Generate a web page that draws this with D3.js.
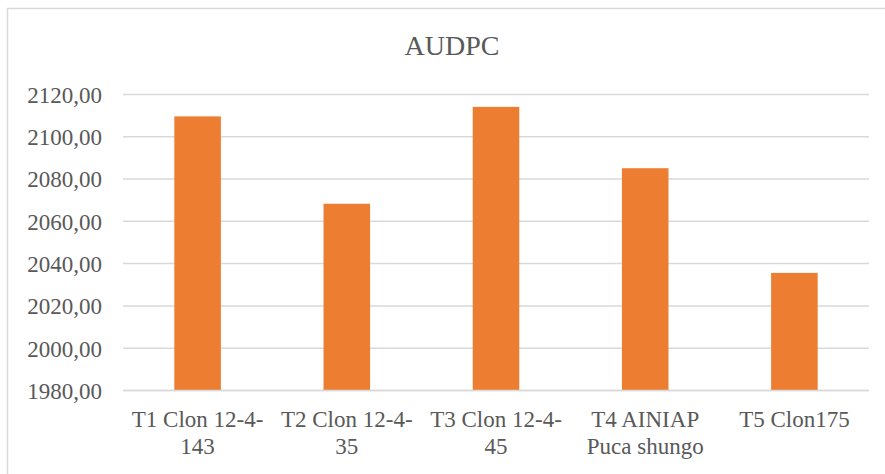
<!DOCTYPE html>
<html>
<head>
<meta charset="utf-8">
<script src="https://cdn.jsdelivr.net/npm/d3@7"></script>
<style>
  html, body { margin: 0; padding: 0; background: #fff; }
  svg { display: block; }
</style>
</head>
<body>
<svg id="chart" width="885" height="474"></svg>
<script>
// AUDPC per treatment
const categories = [
  ["T1 Clon 12-4-", "143"],
  ["T2 Clon 12-4-", "35"],
  ["T3 Clon 12-4-", "45"],
  ["T4 AINIAP", "Puca shungo"],
  ["T5 Clon175"]
];
const audpcValues = [2109.6, 2068.3, 2114.1, 2085.1, 2035.6];
const yTicks = [1980, 2000, 2020, 2040, 2060, 2080, 2100, 2120];

const svg = d3.select("#chart");
const textColor = "#595959";
const gridColor = "#d9d9d9";
const serif = '"Liberation Serif"';

// chart frame
svg.append("rect")
  .attr("x", 7.5).attr("y", 8.5)
  .attr("width", 900).attr("height", 500)
  .attr("fill", "#fff")
  .attr("stroke", gridColor).attr("stroke-width", 1.5);

const x = d3.scaleBand()
  .domain(categories.map((d, i) => i))
  .range([123, 869])
  .padding(0);

const y = d3.scaleLinear()
  .domain([1980, 2120])
  .range([390.5, 94.4]);

// horizontal gridlines
svg.append("g")
  .selectAll("line")
  .data(yTicks)
  .join("line")
  .attr("x1", 123).attr("x2", 869)
  .attr("y1", d => y(d)).attr("y2", d => y(d))
  .attr("stroke", gridColor)
  .attr("stroke-width", 1.5);

// y axis labels
const yAxis = d3.axisLeft(y)
  .tickValues(yTicks)
  .tickSize(0)
  .tickPadding(0)
  .tickFormat(d => d3.format(".2f")(d).replace(".", ","));
svg.append("g")
  .attr("transform", "translate(102,0)")
  .call(yAxis)
  .call(g => g.select(".domain").remove())
  .attr("font-family", serif)
  .attr("font-size", 23)
  .selectAll("text")
  .attr("fill", textColor)
  .style("font-family", serif)
  .style("font-size", "23px")
  .attr("dy", "0.34em");

// bars
const barW = x.bandwidth() * 0.312;
svg.append("g")
  .selectAll("rect")
  .data(audpcValues)
  .join("rect")
  .attr("x", (d, i) => x(i) + (x.bandwidth() - barW) / 2)
  .attr("width", barW)
  .attr("y", d => y(d))
  .attr("height", d => y(1980) - y(d))
  .attr("fill", "#ED7D31");

// baseline
svg.append("line")
  .attr("x1", 123).attr("x2", 869)
  .attr("y1", y(1980)).attr("y2", y(1980))
  .attr("stroke", gridColor).attr("stroke-width", 1.5);

// category labels
const xLabels = svg.append("g")
  .selectAll("text")
  .data(categories)
  .join("text")
  .attr("x", (d, i) => x(i) + x.bandwidth() / 2)
  .attr("y", 427)
  .attr("text-anchor", "middle")
  .attr("fill", textColor)
  .style("font-family", serif)
  .style("font-size", "23px");
xLabels.selectAll("tspan")
  .data(d => d)
  .join("tspan")
  .attr("x", function () { return d3.select(this.parentNode).attr("x"); })
  .attr("dy", (d, i) => i === 0 ? 0 : 27)
  .text(d => d);

// title
svg.append("text")
  .attr("x", 452).attr("y", 55)
  .attr("text-anchor", "middle")
  .attr("fill", textColor)
  .style("font-family", serif)
  .style("font-size", "28px")
  .text("AUDPC");
</script>
</body>
</html>
